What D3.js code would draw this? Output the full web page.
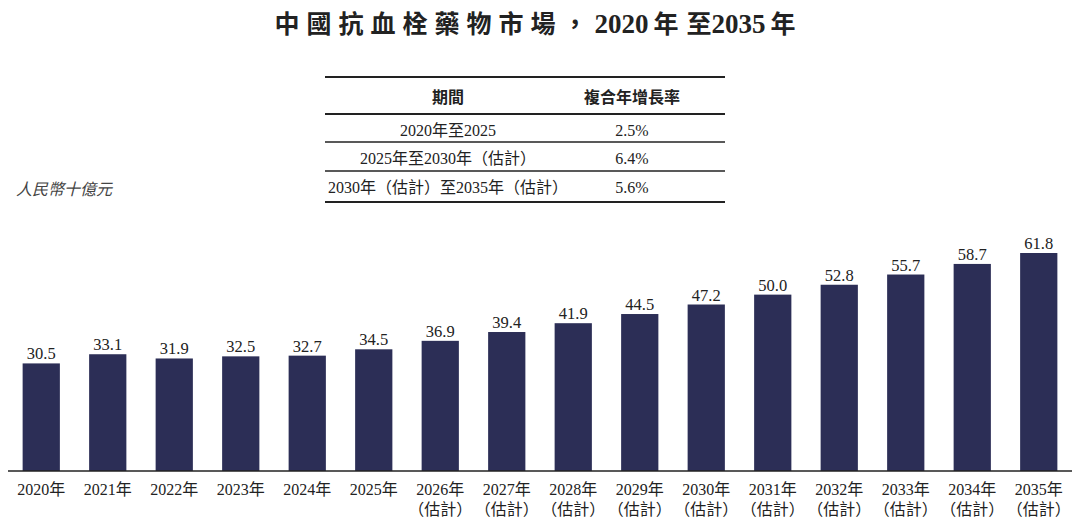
<!DOCTYPE html>
<html><head><meta charset="utf-8">
<script src="https://cdn.jsdelivr.net/npm/d3@7/dist/d3.min.js"></script>
<style>body{margin:0;background:#fff}</style>
</head><body>
<script>
const years = ["2020年","2021年","2022年","2023年","2024年","2025年","2026年","2027年","2028年","2029年","2030年","2031年","2032年","2033年","2034年","2035年"];
const estimated = [false,false,false,false,false,false,true,true,true,true,true,true,true,true,true,true];
const values = [30.5,33.1,31.9,32.5,32.7,34.5,36.9,39.4,41.9,44.5,47.2,50.0,52.8,55.7,58.7,61.8];
const tablePeriods = ["2020年至2025","2025年至2030年（估計）","2030年（估計）至2035年（估計）"];
const tableCagr = ["2.5%","6.4%","5.6%"];
const unitText = "人民幣十億元";

const W=1080,H=525;
const svg=d3.select("body").append("svg").attr("width",W).attr("height",H);
const serif="'Liberation Serif','DejaVu Serif',serif";
const cjk="'Noto Sans CJK TC','Noto Sans CJK SC',sans-serif";
const mixed=serif+",'Noto Sans CJK TC'";
const barColor="#2c2e56";

// title
const t=svg.append("text").attr("x",535).attr("y",33).attr("text-anchor","middle")
  .attr("font-size",25).attr("font-weight","bold").attr("fill","#222");
t.append("tspan").attr("font-family",cjk).attr("letter-spacing",7).text("中國抗血栓藥物市場，");
t.append("tspan").attr("font-family",serif).attr("font-size",27).text("2020");
t.append("tspan").attr("font-family",cjk).attr("dx",5).text("年");
t.append("tspan").attr("font-family",cjk).attr("dx",8).text("至");
t.append("tspan").attr("font-family",serif).attr("font-size",27).text("2035");
t.append("tspan").attr("font-family",cjk).attr("dx",5).text("年");

// table
const tx0=325,tx1=725,c1=448,c2=632;
const lines=[{y:77,w:2},{y:114,w:2},{y:142,w:1.5},{y:171,w:1.5},{y:202,w:2}];
svg.selectAll("line.tl").data(lines).join("line").attr("class","tl")
  .attr("x1",tx0).attr("x2",tx1).attr("y1",d=>d.y).attr("y2",d=>d.y)
  .attr("stroke","#222").attr("stroke-width",d=>d.w);
svg.append("text").attr("x",c1).attr("y",103).attr("text-anchor","middle").attr("font-family",cjk)
  .attr("font-weight","bold").attr("font-size",16).attr("fill","#222").text("期間");
svg.append("text").attr("x",c2).attr("y",103).attr("text-anchor","middle").attr("font-family",cjk)
  .attr("font-weight","bold").attr("font-size",16).attr("fill","#222").text("複合年增長率");
const rowY=[136,164,193];
svg.selectAll("text.p").data(tablePeriods).join("text").attr("class","p")
  .attr("x",c1).attr("y",(d,i)=>rowY[i]).attr("text-anchor","middle")
  .attr("font-family",mixed).attr("font-size",16).attr("fill","#222").text(d=>d);
svg.selectAll("text.c").data(tableCagr).join("text").attr("class","c")
  .attr("x",c2).attr("y",(d,i)=>rowY[i]).attr("text-anchor","middle")
  .attr("font-family",serif).attr("font-size",16).attr("fill","#222").text(d=>d);

// unit
svg.append("text").attr("x",16).attr("y",195).attr("font-family",mixed)
  .attr("font-style","italic").attr("font-size",16).attr("fill","#444").text(unitText);

// bars
const base=471;
const x=d3.scaleBand().domain(years).range([8,1072]).paddingInner(0.44).paddingOuter(0.22);
const y=d3.scaleLinear().domain([0,61.8]).range([base,253]);
svg.selectAll("rect.b").data(values).join("rect").attr("class","b")
  .attr("x",(d,i)=>x(years[i])).attr("width",x.bandwidth())
  .attr("y",d=>y(d)).attr("height",d=>base-y(d)).attr("fill",barColor);
svg.selectAll("text.v").data(values).join("text").attr("class","v")
  .attr("x",(d,i)=>x(years[i])+x.bandwidth()/2).attr("y",d=>y(d)-4)
  .attr("text-anchor","middle").attr("font-family",serif).attr("font-size",16.5).attr("fill","#222")
  .text(d=>d.toFixed(1));

// axis
const ax=svg.append("g").attr("transform",`translate(0,${base})`)
  .call(d3.axisBottom(x).tickSize(0).tickPadding(0));
ax.select(".domain").attr("stroke","#222").attr("stroke-width",1.5).attr("d","M8,0H1072");
ax.selectAll(".tick text").remove();
ax.selectAll(".tick").each(function(d,i){
  const g=d3.select(this);
  const tt=g.append("text").attr("text-anchor","middle").attr("fill","#222")
    .attr("font-family",mixed).attr("font-size",16);
  tt.append("tspan").attr("x",0).attr("y",24).text(d);
  if(estimated[i]) tt.append("tspan").attr("x",0).attr("y",44).text("（估計）");
});
</script>
</body></html>
